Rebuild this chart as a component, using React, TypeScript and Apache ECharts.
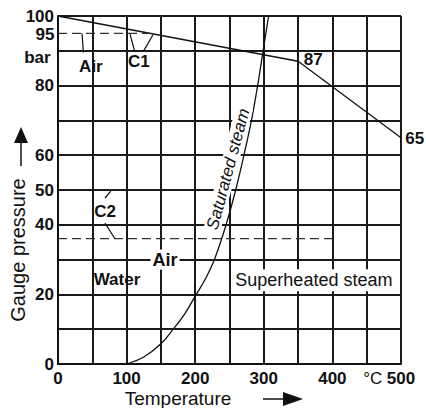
import React, { useEffect, useRef } from 'react';
import * as echarts from 'echarts';

// Axis settings (values)
const xMin = 0;
const xMax = 500;
const xStep = 50;
const yMin = 0;
const yMax = 100;
const yStep = 10;
const xLabelValues = [0, 100, 200, 300, 400, 500];
const unitLabelValue = 450;
const yLabelValues = [0, 20, 40, 50, 60, 80, 100];

// Permissible pressure line (bar vs °C)
const limitTemp = [0, 350, 500];
const limitPress = [100, 87, 65];

// Saturated steam curve
const satTemp = [100, 125, 150, 168, 185, 200, 215, 228, 245, 259, 271, 282, 291, 299, 307];
const satPress = [0, 2, 5.8, 10, 14.5, 19.5, 24.5, 30, 40, 50, 60, 70, 80, 90, 100];

// Dashed air cushion lines
const c1Temp = [0, 134];
const c1Press = [95, 95];
const c2Temp = [0, 400];
const c2Press = [36, 36];

// Leader lines [x1, y1, x2, y2] in data units
const leaders = [
  [35, 95, 37, 89.5],
  [105, 94.8, 112, 89.7],
  [138.5, 94.6, 124, 89.7],
  [68.5, 47.7, 77, 49.7],
  [68.5, 40.5, 83, 36],
];

// Annotations (text, temperature, pressure)
const boldNotes: [string, number, number][] = [
  ['Air', 48, 85.6],
  ['C1', 118, 86.8],
  ['C2', 68.5, 43.7],
  ['Water', 86, 24.4],
  ['87', 372, 87.6],
  ['65', 520, 64.7],
  ['95', -19, 94.8],
  ['bar', -30, 88.2],
];
const boxedBold: [string, number, number][] = [['Air', 156, 30]];
const boxedNormal: [string, number, number][] = [['Superheated steam', 373, 24.1]];
const curveNote: [string, number, number][] = [['Saturated steam', 248, 56]];

const FONT = '"Liberation Sans", Arial, Helvetica, sans-serif';
const INK = '#111';

function pairs(xs: number[], ys: number[]) {
  return xs.map((x, i) => [x, ys[i]]);
}

export default function App() {
  const ref = useRef<HTMLDivElement>(null);
  useEffect(() => {
    if (!ref.current) return;
    const chart = echarts.init(ref.current, undefined, { renderer: 'svg' });
    const lineBase = {
      type: 'line' as const,
      showSymbol: false,
      symbol: 'none',
      silent: true,
      z: 3,
    };
    const noteItems = [
      ...boldNotes.map(([t, x, y]) => ({
        value: [x, y],
        label: { show: true, formatter: t, fontWeight: 'bold', fontSize: 17, color: INK, fontFamily: FONT },
      })),
      ...boxedBold.map(([t, x, y]) => ({
        value: [x, y],
        label: {
          show: true, formatter: t, fontWeight: 'bold', fontSize: 18, color: INK, fontFamily: FONT,
          backgroundColor: '#fff', padding: [1, 2, 1, 2],
        },
      })),
      ...boxedNormal.map(([t, x, y]) => ({
        value: [x, y],
        label: {
          show: true, formatter: t, fontSize: 18, color: INK, fontFamily: FONT,
          backgroundColor: '#fff', padding: [2, 3, 2, 3],
        },
      })),
      ...curveNote.map(([t, x, y]) => ({
        value: [x, y],
        label: {
          show: true, formatter: t, fontSize: 17, fontStyle: 'italic', color: INK, fontFamily: FONT,
          rotate: 75, backgroundColor: '#fff', padding: [0, 2, 0, 2],
        },
      })),
    ];
    chart.setOption({
      animation: false,
      backgroundColor: '#fff',
      grid: { left: 58, right: 25, top: 16, bottom: 44, containLabel: false },
      xAxis: {
        type: 'value',
        min: xMin,
        max: xMax,
        interval: xStep,
        axisLine: { show: true, lineStyle: { color: INK, width: 2 } },
        axisTick: { show: false },
        splitLine: { show: true, lineStyle: { color: '#1a1a1a', width: 2 } },
        axisLabel: {
          margin: 6,
          showMinLabel: true,
          showMaxLabel: true,
          fontFamily: FONT,
          fontSize: 17,
          fontWeight: 'bold',
          color: INK,
          formatter: (v: number) =>
            xLabelValues.includes(v) ? String(v) : v === unitLabelValue ? '{u|°C}' : '',
          rich: { u: { fontFamily: FONT, fontSize: 17, fontWeight: 'normal', color: INK, padding: [0, 0, 0, 12] } },
        },
      },
      yAxis: {
        type: 'value',
        min: yMin,
        max: yMax,
        interval: yStep,
        axisLine: { show: true, lineStyle: { color: INK, width: 2 } },
        axisTick: { show: false },
        splitLine: { show: true, lineStyle: { color: '#1a1a1a', width: 2 } },
        axisLabel: {
          margin: 4,
          showMinLabel: true,
          showMaxLabel: true,
          fontFamily: FONT,
          fontSize: 17,
          fontWeight: 'bold',
          color: INK,
          formatter: (v: number) => (yLabelValues.includes(v) ? String(v) : ''),
        },
      },
      series: [
        { ...lineBase, data: pairs(limitTemp, limitPress), lineStyle: { color: INK, width: 1.3 } },
        { ...lineBase, data: pairs(satTemp, satPress), smooth: 0.4, lineStyle: { color: INK, width: 1.3 } },
        { ...lineBase, data: pairs(c1Temp, c1Press), lineStyle: { color: '#333', width: 1.3, type: [9, 5] } },
        { ...lineBase, data: pairs(c2Temp, c2Press), lineStyle: { color: '#333', width: 1.3, type: [9, 5] } },
        ...leaders.map((l) => ({
          ...lineBase,
          data: [[l[0], l[1]], [l[2], l[3]]],
          lineStyle: { color: INK, width: 1.2 },
        })),
        {
          type: 'scatter',
          symbolSize: 0,
          clip: false,
          silent: true,
          z: 5,
          itemStyle: { opacity: 1 },
          label: { position: 'inside' },
          data: noteItems,
        },
      ],
      graphic: [
        {
          type: 'text',
          x: 178,
          y: 398,
          style: { text: 'Temperature', fontFamily: FONT, fontSize: 19, fill: INK, align: 'center', verticalAlign: 'middle' },
        },
        { type: 'line', shape: { x1: 263, y1: 399, x2: 287, y2: 399 }, style: { stroke: INK, lineWidth: 1.5 } },
        { type: 'polygon', shape: { points: [[303, 399], [283, 392], [283, 406]] }, style: { fill: INK } },
        {
          type: 'text',
          x: 18,
          y: 250,
          rotation: Math.PI / 2,
          style: { text: 'Gauge pressure', fontFamily: FONT, fontSize: 20, fill: INK, align: 'center', verticalAlign: 'middle' },
        },
        { type: 'line', shape: { x1: 21, y1: 166, x2: 21, y2: 141 }, style: { stroke: INK, lineWidth: 1.5 } },
        { type: 'polygon', shape: { points: [[21, 127], [14, 143], [28, 143]] }, style: { fill: INK } },
      ],
    });
    return () => chart.dispose();
  }, []);
  return <div ref={ref} style={{ width: 426, height: 408, position: 'absolute', left: 0, top: 0 }} />;
}
